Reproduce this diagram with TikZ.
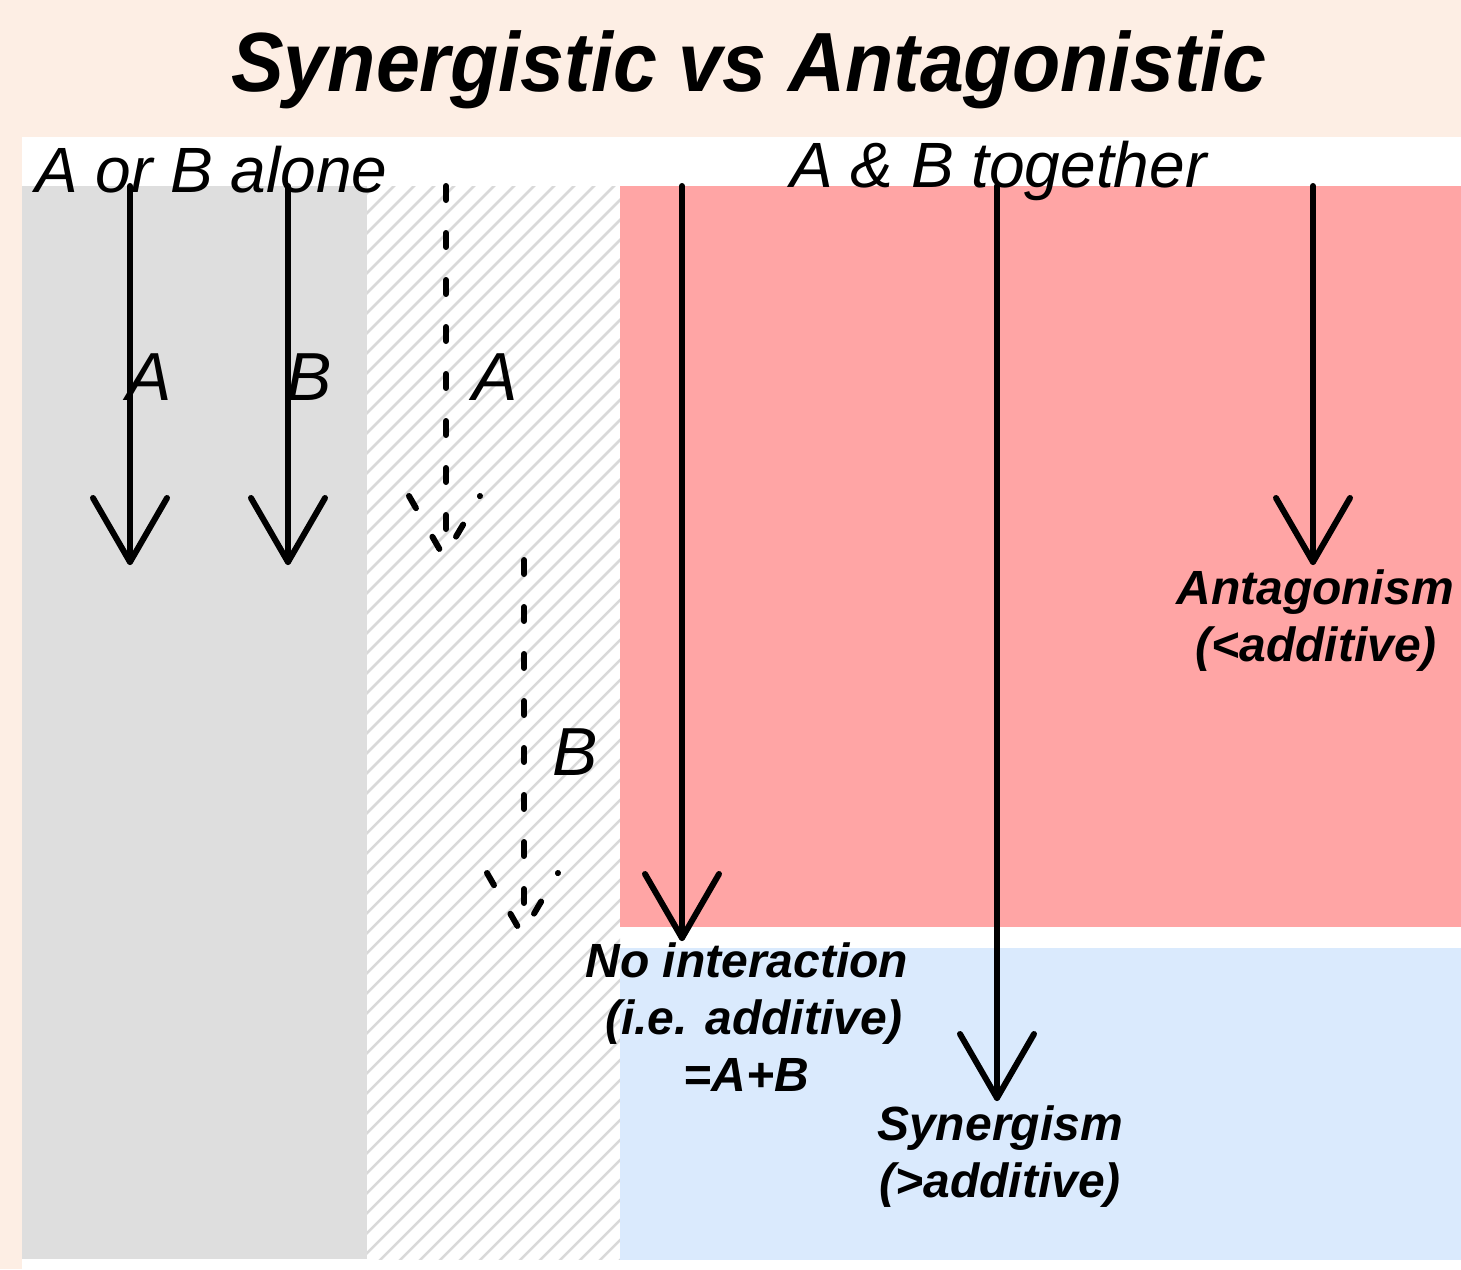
\documentclass[tikz,border=0pt]{standalone}
\usepackage{fontspec}
\setmainfont{Liberation Sans}
\usetikzlibrary{calc}
\definecolor{peach}{HTML}{FDEEE4}
\definecolor{grayfill}{HTML}{DEDEDE}
\definecolor{redfill}{HTML}{FFA5A5}
\definecolor{bluefill}{HTML}{DAEAFD}
\definecolor{hatchc}{HTML}{D9D9D9}
\tikzset{
  arr/.style={line width=6pt, line cap=round, line join=round, black},
  darr/.style={arr, dash pattern=on 14pt off 33pt},
  lbl/.style={inner sep=0pt, anchor=base west, font=\fontsize{68}{72}\selectfont\itshape},
  grp/.style={inner sep=0pt, anchor=base west, font=\fontsize{64}{70}\selectfont\itshape},
  res/.style={inner sep=0pt, anchor=base, font=\fontsize{48}{56}\selectfont\bfseries\itshape},
}
\begin{document}
\begin{tikzpicture}[x=1pt,y=-1pt]
\fill[peach] (0,0) rectangle (1461,1269);
\useasboundingbox (0,0) rectangle (1461,1269);
\fill[white] (22,137) rectangle (1461,1269);
\fill[grayfill] (22,186) rectangle (367,1259);
\begin{scope}
  \clip (367,186) rectangle (620,1259);
  \foreach \x in {-800,-780,...,660} \draw[hatchc, line width=2.5pt] (\x,1300) -- ++(1150,-1150);
\end{scope}
\fill[redfill] (620,186) rectangle (1461,927);
\fill[bluefill] (620,948) rectangle (1461,1260);

% title
\node[inner sep=0pt, anchor=base, font=\fontsize{84}{90}\selectfont\bfseries\itshape, xscale=0.94] (title) at (749,91) {Synergistic vs Antagonistic};
\node[grp] (alone) at (35,192) {A or B alone};
\node[grp] (together) at (790,187) {A \& B together};

% coordinates
\coordinate (a1s) at (130,186); \coordinate (a1e) at (130,562);
\coordinate (b1s) at (288,186); \coordinate (b1e) at (288,562);
\coordinate (a2s) at (446,186); \coordinate (a2e) at (444,557);
\coordinate (b2s) at (524,560); \coordinate (b2e) at (522,934);
\coordinate (nis) at (682,186); \coordinate (nie) at (682,938);
\coordinate (sys) at (997,186); \coordinate (sye) at (997,1098);
\coordinate (ans) at (1313,186); \coordinate (ane) at (1313,562);

% solid arrows
\foreach \s/\e in {a1s/a1e, b1s/b1e, nis/nie, sys/sye, ans/ane} {
  \draw[arr] (\s) -- (\e);
  \draw[arr] ($(\e)+(-37,-64)$) -- (\e) -- ++(37,-64);
}
% dashed arrows
\draw[darr] (a2s) -- (446,557);
\draw[darr] ($(a2e)+(-35,-61)$) -- (a2e) -- ++(36,-61);
\draw[darr] (b2s) -- (524,934);
\draw[darr] ($(b2e)+(-35,-61)$) -- (b2e) -- ++(36,-61);

% letter labels
\node[lbl] (la1) at (126,400) {A};
\node[lbl] (lb1) at (286,400) {B};
\node[lbl] (la2) at (472,400) {A};
\node[lbl] (lb2) at (552,775) {B};

% result labels
\node[res] (ant1) at (1315,604) {Antagonism};
\node[res] (ant2) at (1316,661) {(<additive)};
\node[res] (ni1) at (747,977) {No interaction};
\node[res] (ni2) at (754,1034) {(i.e. additive)};
\node[res] (ni3) at (746,1091) {=A+B};
\node[res] (sy1) at (1000,1140) {Synergism};
\node[res] (sy2) at (1000,1197) {(>additive)};
\end{tikzpicture}
\end{document}
